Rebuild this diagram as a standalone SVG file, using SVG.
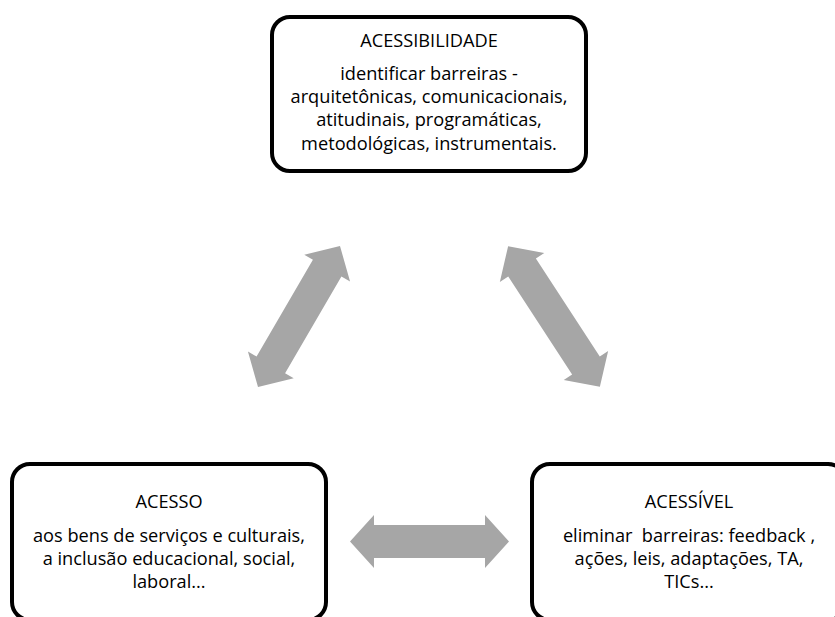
<svg xmlns="http://www.w3.org/2000/svg" width="835" height="617" viewBox="0 0 835 617">
<style>
.box{fill:#fff;stroke:#000;stroke-width:4}
.t{font-family:"Open Sans","Noto Sans",sans-serif;font-size:18.2px;fill:#000;text-anchor:middle}
.arr{fill:#A6A6A6}
</style>
<rect width="835" height="617" fill="#fff"/>
<g id="connectors">
<path class="arr" transform="translate(299,316.5) rotate(-59.8)" d="M-81.5,0 L-56,-26.5 L-56,-16.5 L56,-16.5 L56,-26.5 L81.5,0 L56,26.5 L56,16.5 L-56,16.5 L-56,26.5 Z"/>
<path class="arr" transform="translate(554,316.5) rotate(56.9)" d="M-84,0 L-58.5,-26.5 L-58.5,-16.5 L58.5,-16.5 L58.5,-26.5 L84,0 L58.5,26.5 L58.5,16.5 L-58.5,16.5 L-58.5,26.5 Z"/>
<path class="arr" transform="translate(429.5,541.5)" d="M-79.5,0 L-55.5,-26.5 L-55.5,-16.5 L55.5,-16.5 L55.5,-26.5 L79.5,0 L55.5,26.5 L55.5,16.5 L-55.5,16.5 L-55.5,26.5 Z"/>
</g>
<g id="acessibilidade">
<rect class="box" x="272" y="17" width="314" height="154" rx="18"/>
<text class="t" x="429" y="47">ACESSIBILIDADE</text>
<text class="t" x="429" y="80">identificar barreiras -</text>
<text class="t" x="429" y="103">arquitetônicas, comunicacionais,</text>
<text class="t" x="429" y="126">atitudinais, programáticas,</text>
<text class="t" x="429" y="150">metodológicas, instrumentais.</text>
</g>
<g id="acesso">
<rect class="box" x="12" y="464" width="314" height="156" rx="18"/>
<text class="t" x="169" y="508">ACESSO</text>
<text class="t" x="169" y="542">aos bens de serviços e culturais,</text>
<text class="t" x="169" y="565">a inclusão educacional, social,</text>
<text class="t" x="169" y="588">laboral...</text>
</g>
<g id="acessivel">
<rect class="box" x="532" y="464" width="314" height="156" rx="18"/>
<text class="t" x="689" y="508">ACESSÍVEL</text>
<text class="t" x="689" y="542" xml:space="preserve">eliminar  barreiras: feedback ,</text>
<text class="t" x="689" y="565">ações, leis, adaptações, TA,</text>
<text class="t" x="689" y="588">TICs...</text>
</g>
</svg>
